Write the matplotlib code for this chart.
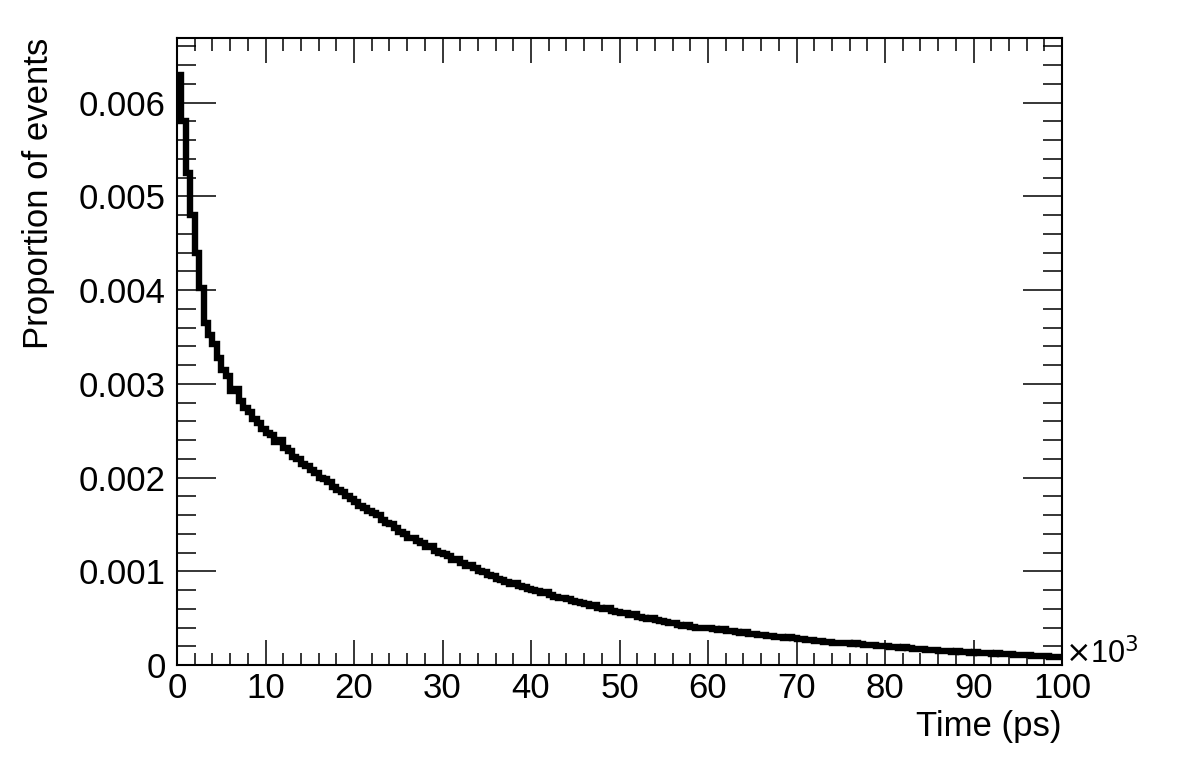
import numpy as np
import matplotlib
matplotlib.use("Agg")
import matplotlib.pyplot as plt
from matplotlib.ticker import MultipleLocator, FixedLocator

# Histogram: 200 bins over 0..100 (x 10^3 ps), values in units of 1e-3
x_min, x_max, n_bins = 0.0, 100.0, 200
values_e3 = [
    6.30, 5.80, 5.25, 4.80, 4.40, 4.02, 3.65, 3.52, 3.42, 3.28,
    3.15, 3.08, 2.92, 2.95, 2.82, 2.74, 2.70, 2.62, 2.58, 2.52,
    2.48, 2.45, 2.38, 2.40, 2.32, 2.28, 2.22, 2.20, 2.14, 2.12,
    2.08, 2.05, 2.00, 1.98, 1.95, 1.90, 1.87, 1.85, 1.80, 1.77,
    1.74, 1.70, 1.68, 1.64, 1.62, 1.60, 1.55, 1.52, 1.50, 1.46,
    1.42, 1.40, 1.36, 1.35, 1.32, 1.30, 1.26, 1.27, 1.22, 1.20,
    1.18, 1.16, 1.12, 1.13, 1.09, 1.06, 1.07, 1.03, 1.00, 0.99,
    0.96, 0.95, 0.92, 0.91, 0.89, 0.86, 0.87, 0.84, 0.83, 0.81,
    0.80, 0.79, 0.77, 0.78, 0.75, 0.73, 0.72, 0.71, 0.70, 0.68,
    0.67, 0.66, 0.65, 0.63, 0.64, 0.61, 0.60, 0.61, 0.58, 0.57,
    0.56, 0.55, 0.53, 0.54, 0.51, 0.50, 0.49, 0.50, 0.48, 0.47,
    0.46, 0.45, 0.45, 0.43, 0.42, 0.43, 0.41, 0.40, 0.40, 0.39,
    0.39, 0.38, 0.37, 0.38, 0.36, 0.36, 0.35, 0.34, 0.35, 0.33,
    0.33, 0.32, 0.32, 0.31, 0.31, 0.30, 0.30, 0.29, 0.30, 0.29,
    0.28, 0.28, 0.27, 0.27, 0.26, 0.26, 0.25, 0.25, 0.24, 0.24,
    0.23, 0.23, 0.22, 0.23, 0.22, 0.21, 0.21, 0.21, 0.20, 0.20,
    0.20, 0.19, 0.19, 0.18, 0.19, 0.18, 0.17, 0.17, 0.17, 0.16,
    0.16, 0.16, 0.15, 0.15, 0.15, 0.14, 0.15, 0.14, 0.14, 0.13,
    0.14, 0.13, 0.13, 0.13, 0.12, 0.13, 0.12, 0.12, 0.12, 0.11,
    0.11, 0.11, 0.11, 0.10, 0.10, 0.10, 0.10, 0.09, 0.09, 0.09,
]
x_ticks = [0, 10, 20, 30, 40, 50, 60, 70, 80, 90, 100]
y_ticks = [0, 0.001, 0.002, 0.003, 0.004, 0.005, 0.006]
y_tick_labels = ["0", "0.001", "0.002", "0.003", "0.004", "0.005", "0.006"]
x_label = "Time (ps)"
y_label = "Proportion of events"

plt.rcParams['font.family'] = ['Liberation Sans', 'DejaVu Sans']
FS = 25

fig = plt.figure(figsize=(11.82, 7.57), dpi=100)
ax = fig.add_axes([177/1182, 1-665/757, (1062-177)/1182, (665-38)/757])

edges = np.linspace(x_min, x_max, n_bins + 1)
vals = np.array(values_e3) * 1e-3
ax.stairs(vals, edges, baseline=None, color='black', linewidth=4.6)

ax.set_xlim(x_min, x_max)
ax.set_ylim(0, 0.00669)

ax.xaxis.set_major_locator(FixedLocator(x_ticks))
ax.xaxis.set_minor_locator(MultipleLocator(2))
ax.yaxis.set_major_locator(FixedLocator(y_ticks))
ax.yaxis.set_minor_locator(MultipleLocator(0.0002))
ax.set_yticklabels(y_tick_labels)
ax.set_xticklabels([str(t) for t in x_ticks])

for sp in ax.spines.values():
    sp.set_linewidth(1.5)

ax.tick_params(axis='both', which='both', direction='in', top=True, right=True,
               labelsize=FS, width=1.1, colors='black')
ax.tick_params(axis='x', which='major', length=18, pad=5)
ax.tick_params(axis='x', which='minor', length=9)
ax.tick_params(axis='y', which='major', length=28, pad=8)
ax.tick_params(axis='y', which='minor', length=14)

ax.set_xlabel(x_label, fontsize=FS, loc='right')
ax.set_ylabel(y_label, fontsize=FS, loc='top')
ax.xaxis.set_label_coords(1.0, -0.072)
ax.yaxis.set_label_coords(-0.138, 1.0)

ax.text(1.003, 0.018, r"$\times$10$^{3}$", transform=ax.transAxes,
        fontsize=22, ha='left', va='center')

fig.savefig("out.png", dpi=100)
